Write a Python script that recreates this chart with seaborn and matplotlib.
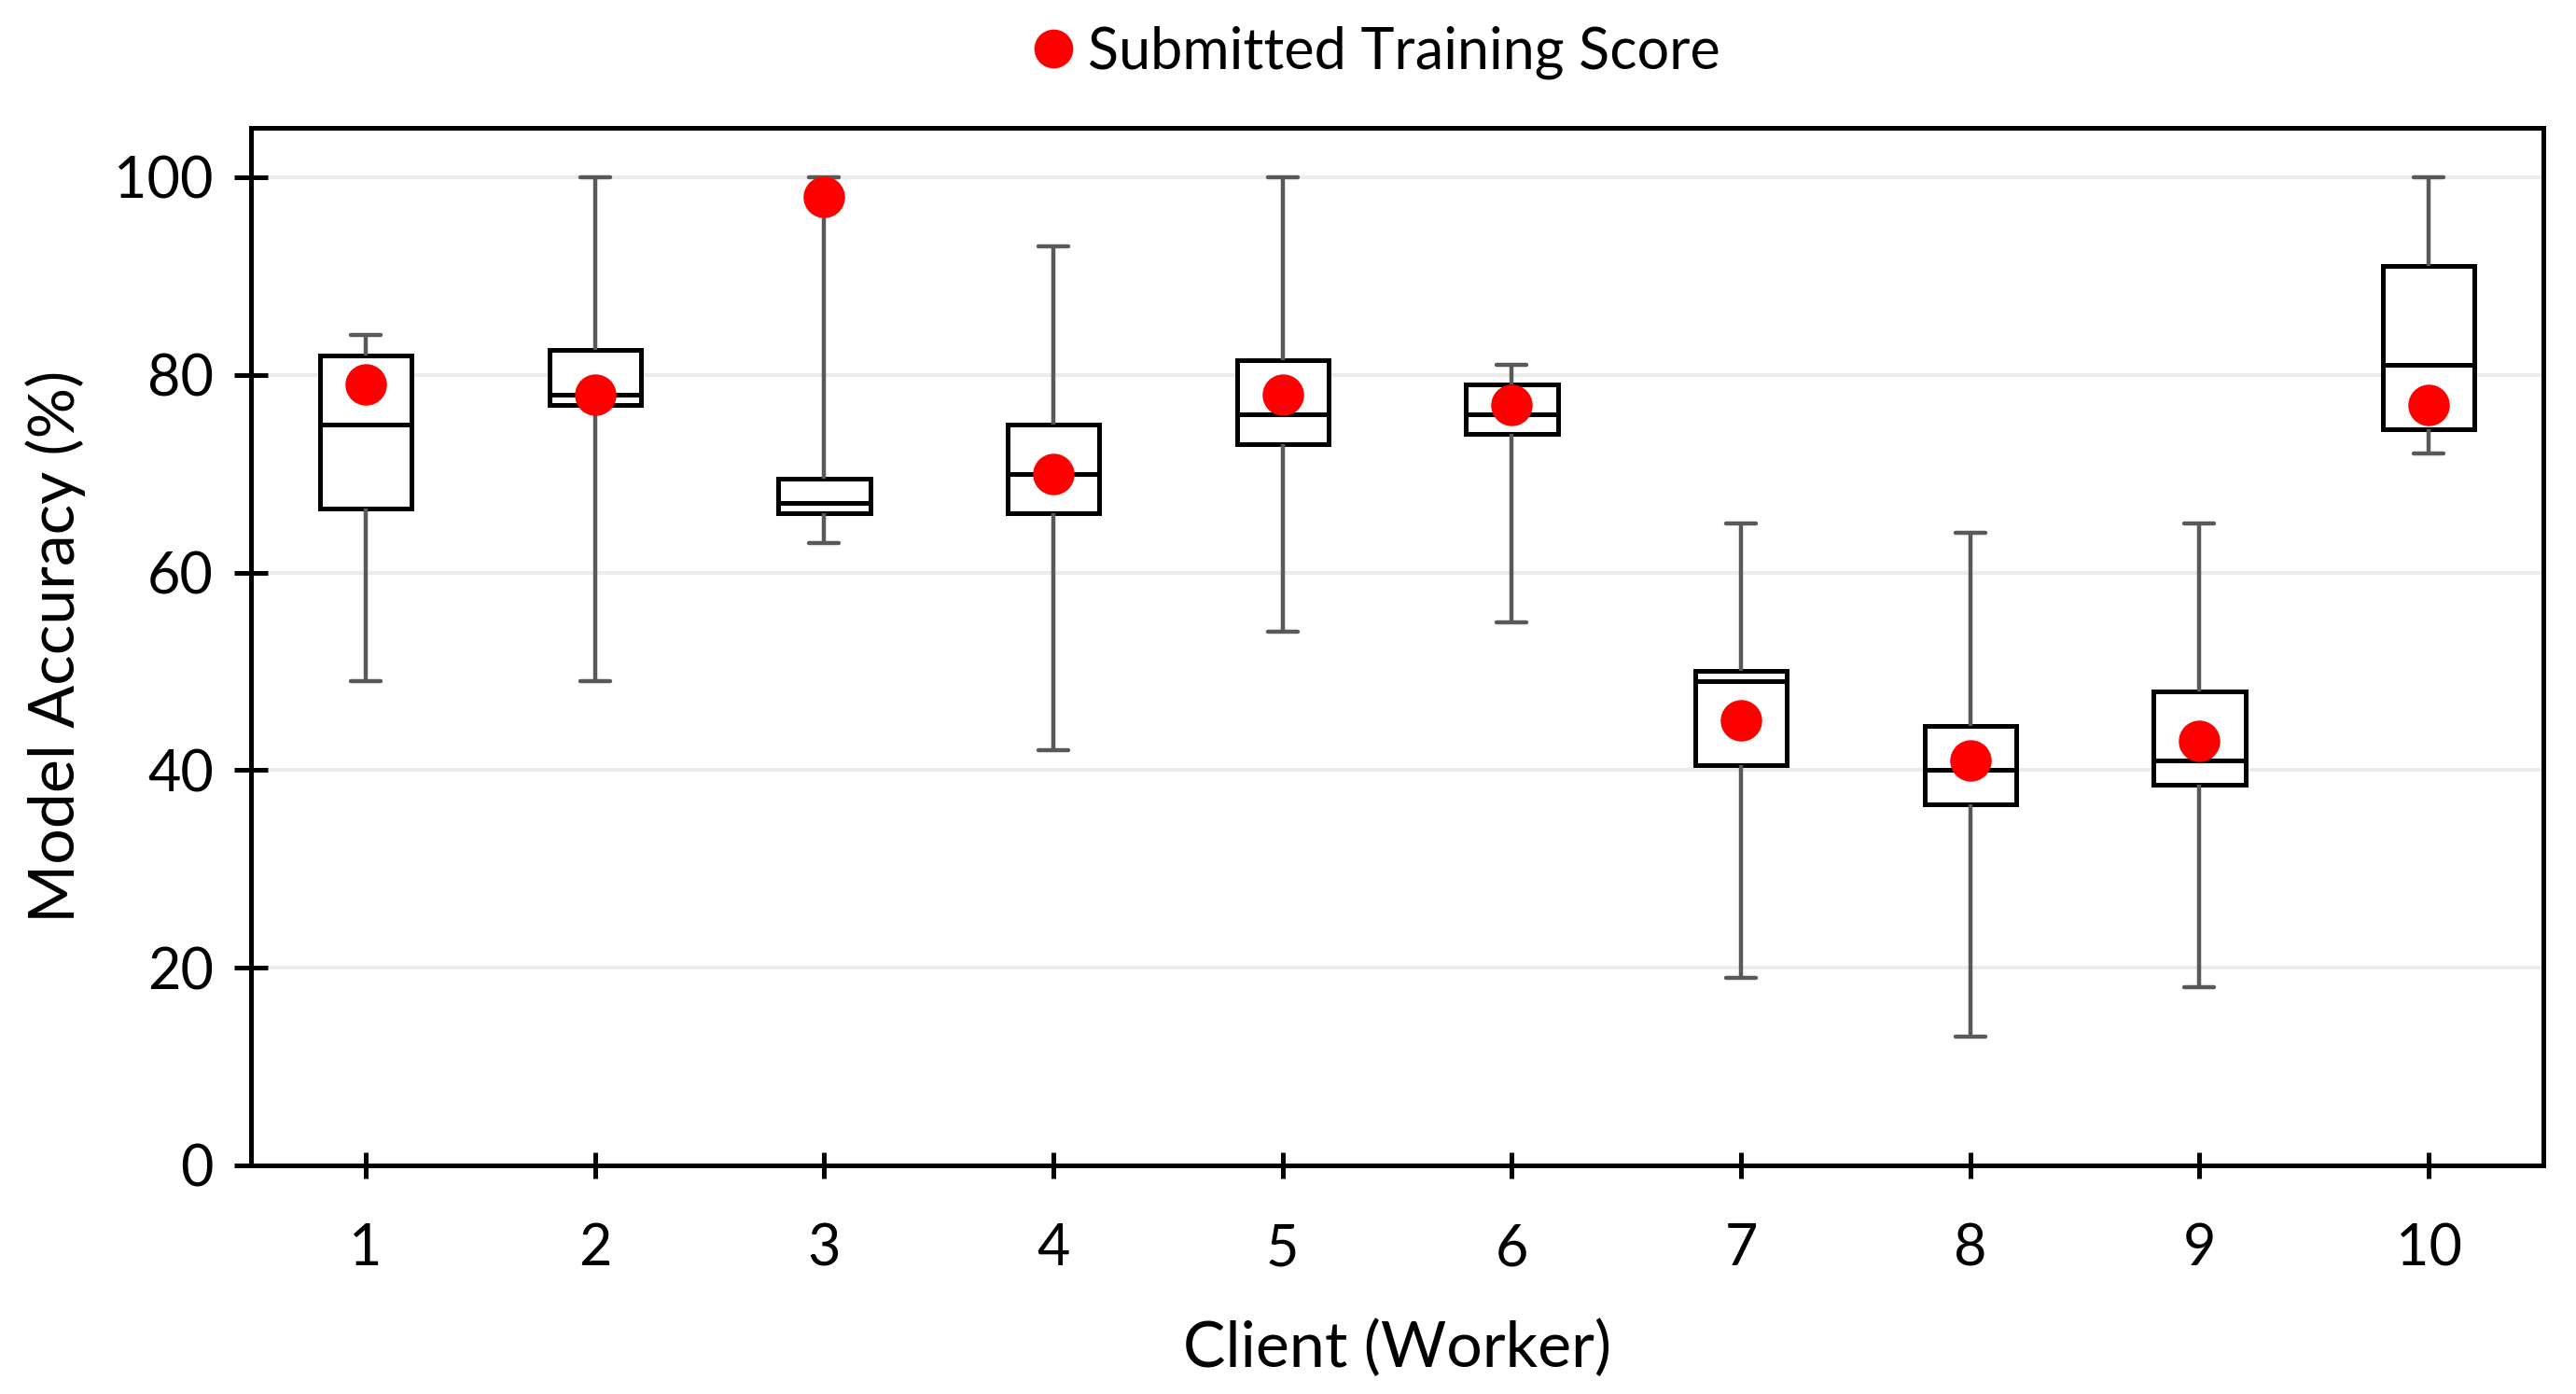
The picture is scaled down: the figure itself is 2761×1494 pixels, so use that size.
import numpy as np
import pandas as pd
import matplotlib.pyplot as plt
import seaborn as sns
from matplotlib.lines import Line2D

# Box summary per client
clients = ['1', '2', '3', '4', '5', '6', '7', '8', '9', '10']
whisker_low = [49, 49, 63, 42, 54, 55, 19, 13, 18, 72]
q1 = [66.5, 77, 66, 66, 73, 74, 40.5, 36.5, 38.5, 74.5]
median = [75, 78, 67, 70, 76, 76, 49, 40, 41, 81]
q3 = [82, 82.5, 69.5, 75, 81.5, 79, 50, 44.5, 48, 91]
whisker_high = [84, 100, 100, 93, 100, 81, 65, 64, 65, 100]
submitted = [79, 78, 98, 70, 78, 77, 45, 41, 43, 77]

# five values per client -> percentiles give exactly min/q1/median/q3/max
rows = []
for i, c in enumerate(clients):
    for v in [whisker_low[i], q1[i], median[i], q3[i], whisker_high[i]]:
        rows.append({'Client': c, 'Accuracy': v})
df = pd.DataFrame(rows)

sns.set_style('white')
plt.rcParams['font.family'] = ['Lato', 'DejaVu Sans']
for k in ['text.color', 'axes.labelcolor', 'xtick.color', 'ytick.color']:
    plt.rcParams[k] = 'black'

fig, ax = plt.subplots(figsize=(13.805, 7.47), dpi=200)
fig.subplots_adjust(left=0.0975, right=0.9873, bottom=0.164, top=0.9083)

ax.yaxis.grid(True, color='#ebebeb', linewidth=1.4)
ax.set_axisbelow(True)

box_kws = dict(data=df, x='Client', y='Accuracy', order=clients, whis=(0, 100),
               width=0.4, color='white', linecolor='black', linewidth=1.8,
               showfliers=False,
               whiskerprops=dict(color='#595959', linewidth=1.6),
               capprops=dict(color='#595959', linewidth=1.6),
               ax=ax)
try:
    sns.boxplot(capwidths=0.13, **box_kws)
except TypeError:
    ax.cla()
    sns.boxplot(**box_kws)

sns.stripplot(x=clients, y=submitted, order=clients, jitter=False,
              color='red', size=16, linewidth=0, zorder=5, ax=ax)

ax.set_xlim(-0.5, 9.5)
ax.set_ylim(0, 105)
ax.set_yticks([0, 20, 40, 60, 80, 100])

for s in ax.spines.values():
    s.set_visible(True)
    s.set_color('black')
    s.set_linewidth(1.8)

ax.tick_params(axis='y', direction='inout', length=13, width=1.8, pad=8,
               labelsize=22, left=True)
ax.tick_params(axis='x', direction='inout', length=10, width=1.8, pad=17,
               labelsize=22, bottom=True)

ax.set_xlabel('Client (Worker)', fontsize=24.5, labelpad=17)
ax.set_ylabel('Model Accuracy (%)', fontsize=24.5, labelpad=11)

handle = Line2D([], [], marker='o', color='red', linestyle='none', markersize=14)
ax.legend([handle], ['Submitted Training Score'], loc='lower center',
          bbox_to_anchor=(0.488, 1.025), frameon=False, fontsize=22,
          handletextpad=0.0, handlelength=1.2, borderaxespad=0)

plt.savefig('out.png', dpi=200)
